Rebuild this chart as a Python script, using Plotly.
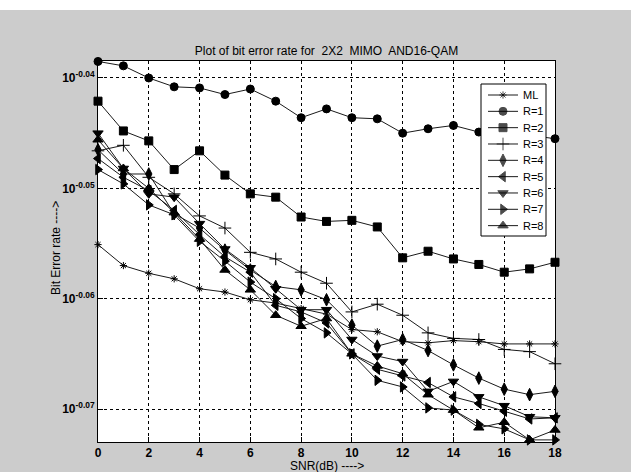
import plotly.graph_objects as go

snr = list(range(0, 19))

# log10 of bit error rate
ml = [-0.0551, -0.0570, -0.0577, -0.0582, -0.0591, -0.0594, -0.0601, -0.0604, -0.0609, -0.0614,
      -0.0628, -0.0630, -0.0639, -0.0640, -0.0638, -0.0639, -0.0641, -0.0641, -0.0641]
r1 = [-0.0385, -0.0389, -0.0400, -0.0408, -0.0409, -0.0415, -0.0410, -0.0421, -0.0436, -0.0428,
      -0.0436, -0.0437, -0.0450, -0.0446, -0.0443, -0.0449, -0.0450, -0.0452, -0.0455]
r2 = [-0.0421, -0.0448, -0.0457, -0.0483, -0.0466, -0.0488, -0.0505, -0.0508, -0.0526, -0.0530,
      -0.0529, -0.0535, -0.0563, -0.0557, -0.0564, -0.0569, -0.0576, -0.0573, -0.0567]
r3 = [-0.0466, -0.0461, -0.0490, -0.0505, -0.0525, -0.0536, -0.0558, -0.0564, -0.0576, -0.0586,
      -0.0612, -0.0605, -0.0615, -0.0631, -0.0636, -0.0637, -0.0646, -0.0648, -0.0659]
r4 = [-0.0465, -0.0487, -0.0487, -0.0523, -0.0536, -0.0556, -0.0574, -0.0589, -0.0592, -0.0601,
      -0.0624, -0.0643, -0.0637, -0.0647, -0.0660, -0.0672, -0.0682, -0.0687, -0.0684]
r5 = [-0.0473, -0.0490, -0.0502, -0.0520, -0.0542, -0.0562, -0.0576, -0.0606, -0.0612, -0.0622,
      -0.0650, -0.0664, -0.0670, -0.0676, -0.0689, -0.0695, -0.0702, -0.0709, -0.0708]
r6 = [-0.0450, -0.0482, -0.0505, -0.0508, -0.0532, -0.0555, -0.0572, -0.0591, -0.0610, -0.0610,
      -0.0637, -0.0652, -0.0657, -0.0684, -0.0675, -0.0689, -0.0697, -0.0707, -0.0708]
r7 = [-0.0483, -0.0496, -0.0515, -0.0524, -0.0548, -0.0566, -0.0585, -0.0600, -0.0618, -0.0631,
      -0.0650, -0.0674, -0.0680, -0.0699, -0.0701, -0.0714, -0.0718, -0.0728, -0.0728]
r8 = [-0.0456, -0.0482, -0.0500, -0.0522, -0.0546, -0.0574, -0.0592, -0.0615, -0.0625, -0.0618,
      -0.0650, -0.0661, -0.0668, -0.0687, -0.0701, -0.0717, -0.0712, -0.0728, -0.0719]

names = ["ML", "R=1", "R=2", "R=3", "R=4", "R=5", "R=6", "R=7", "R=8"]
series = [ml, r1, r2, r3, r4, r5, r6, r7, r8]
symbols = ["asterisk-open", "circle", "square", "cross-thin-open", "diamond-tall",
           "triangle-left", "triangle-down", "triangle-right", "triangle-up"]
sizes = [6, 8, 8, 9, 9, 9, 9, 9, 9]

xticks = [0, 2, 4, 6, 8, 10, 12, 14, 16, 18]
yexp = [-0.07, -0.06, -0.05, -0.04]
ytick_text = ["10<sup>-0.07</sup>", "10<sup>-0.06</sup>", "10<sup>-0.05</sup>", "10<sup>-0.04</sup>"]

W, H = 631, 472
L, R, T, B = 98, 555, 61, 442   # plot-area edges in pixels
LINE = "#1a1a1a"

fig = go.Figure()
for name, vals, sym, sz in zip(names, series, symbols, sizes):
    fig.add_trace(go.Scatter(
        x=snr, y=[10 ** v for v in vals], name=name, mode="lines+markers",
        line=dict(color=LINE, width=1),
        marker=dict(symbol=sym, size=sz, color="#000000",
                    line=dict(color="#000000", width=1)),
        cliponaxis=False, showlegend=False,
    ))

# legend drawn on an overlay axis measured in pixels
lx0, lx1, ly0, ly1 = 481, 546, 84, 236
fig.add_trace(go.Scatter(x=[lx0, lx1, lx1, lx0, lx0], y=[ly0, ly0, ly1, ly1, ly0],
                         mode="lines", fill="toself", fillcolor="#ffffff",
                         line=dict(color="#000000", width=1), xaxis="x2", yaxis="y2",
                         showlegend=False, hoverinfo="skip"))
annotations = []
for i, (name, sym, sz) in enumerate(zip(names, symbols, sizes)):
    ry = 95 + i * 16.33
    fig.add_trace(go.Scatter(x=[488, 503, 518], y=[ry, ry, ry], mode="lines+markers",
                             line=dict(color=LINE, width=1),
                             marker=dict(symbol=sym, size=[0, sz, 0], color="#000000",
                                         line=dict(color="#000000", width=[0, 1, 0])),
                             xaxis="x2", yaxis="y2", showlegend=False, hoverinfo="skip",
                             cliponaxis=False))
    annotations.append(dict(text=name, xref="x2", yref="y2", x=521, y=ry, xanchor="left",
                            yanchor="middle", showarrow=False, font=dict(size=11)))

annotations += [
    dict(text="SNR(dB) ---->", xref="paper", yref="paper", x=0.5, y=(B - 466) / (B - T),
         xanchor="center", yanchor="middle", showarrow=False, font=dict(size=12)),
    dict(text="Bit Error rate ---->", xref="paper", yref="paper", x=(56 - L) / (R - L),
         y=(B - 248) / (B - T), xanchor="center", yanchor="middle", textangle=-90,
         showarrow=False, font=dict(size=12)),
]

fig.update_layout(
    width=W, height=H,
    paper_bgcolor="#cccccc", plot_bgcolor="#ffffff",
    margin=dict(l=L, r=W - R, t=T, b=H - B, autoexpand=False),
    font=dict(family="Liberation Sans, Arial, sans-serif", color="#000000", size=11),
    title=dict(text="Plot of bit error rate for  2X2  MIMO  AND16-QAM",
               x=(L + R) / 2 / W, xanchor="center", y=1 - 51 / H, yanchor="middle",
               font=dict(size=12)),
    showlegend=False,
    shapes=[dict(type="rect", xref="paper", yref="paper", x0=-0.3, x1=1.3,
                 y0=1 + (T - 10) / (B - T), y1=1 + T / (B - T) + 0.01, fillcolor="#ffffff",
                 line=dict(width=0), layer="above")],
    annotations=annotations,
    xaxis=dict(range=[0, 18], tickvals=xticks, showgrid=True,
               gridcolor="#000000", griddash="dot", gridwidth=1, showline=True,
               linecolor="#000000", linewidth=1, mirror=True, ticks="inside",
               ticklen=5, tickcolor="#000000", zeroline=False, automargin=False,
               tickfont=dict(size=12, family="Liberation Sans, Arial", weight="bold")),
    yaxis=dict(type="log", range=[-0.07299, -0.03846],
               tickvals=[10 ** e for e in yexp], ticktext=ytick_text,
               showgrid=True, gridcolor="#000000", griddash="dot", gridwidth=1,
               showline=True, linecolor="#000000", linewidth=1, mirror=True,
               ticks="inside", ticklen=5, tickcolor="#000000", zeroline=False,
               automargin=False,
               tickfont=dict(size=12, family="Liberation Sans, Arial", weight="bold")),
    xaxis2=dict(overlaying="x", range=[L, R], visible=False, fixedrange=True),
    yaxis2=dict(overlaying="y", range=[B, T], visible=False, fixedrange=True),
)

fig.write_html("out.html", config={"displayModeBar": False},
               post_script="document.body.style.margin='0px';")
